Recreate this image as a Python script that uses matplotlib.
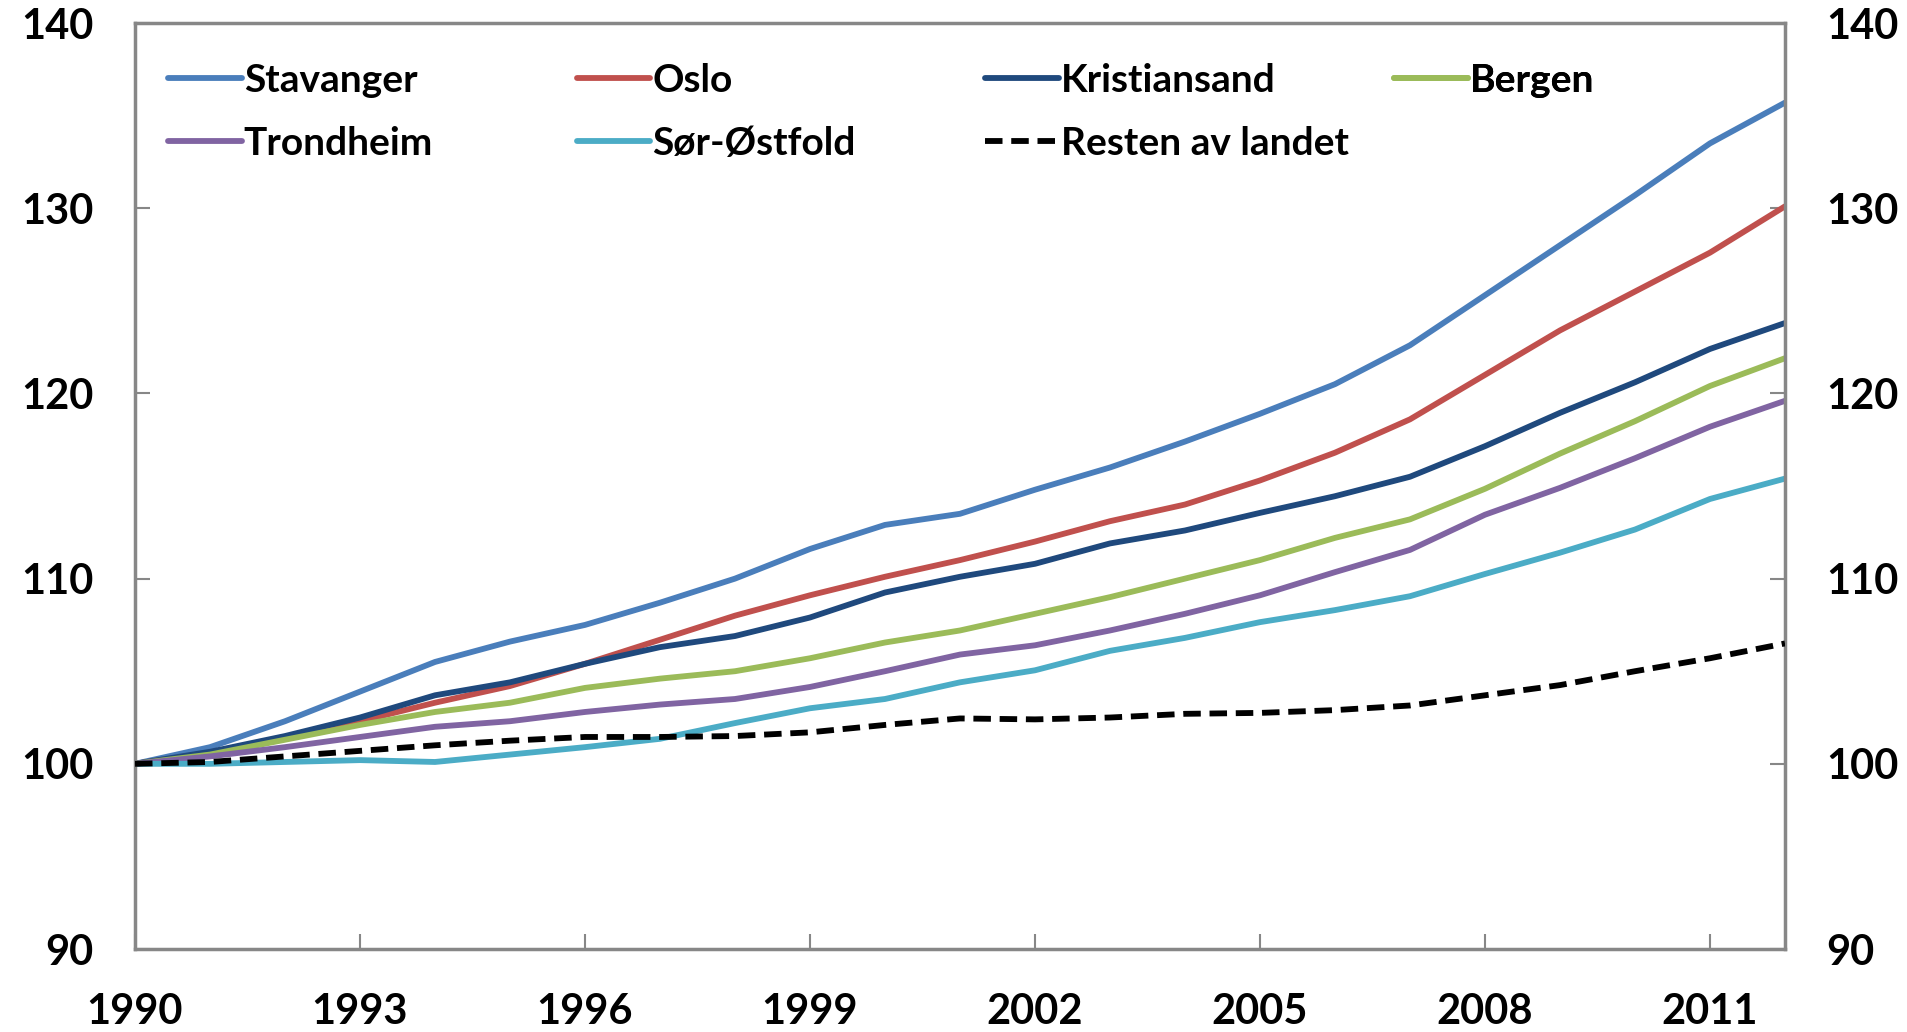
import matplotlib
matplotlib.use("Agg")
import matplotlib.pyplot as plt

years = list(range(1990, 2013))
series_names = ["Stavanger", "Oslo", "Kristiansand", "Bergen",
                "Trondheim", "Sør-Østfold", "Resten av landet"]
stavanger = [100, 100.9, 102.3, 103.9, 105.5, 106.6, 107.5, 108.7, 110.0, 111.6, 112.9, 113.5,
             114.8, 116.0, 117.4, 118.9, 120.5, 122.6, 125.3, 128.0, 130.7, 133.5, 135.7]
oslo = [100, 100.6, 101.4, 102.3, 103.3, 104.2, 105.4, 106.7, 108.0, 109.1, 110.1, 111.0,
        112.0, 113.1, 114.0, 115.3, 116.8, 118.6, 121.0, 123.4, 125.5, 127.6, 130.1]
kristiansand = [100, 100.65, 101.5, 102.5, 103.7, 104.4, 105.4, 106.3, 106.9, 107.9, 109.25, 110.1,
                110.8, 111.9, 112.6, 113.55, 114.45, 115.5, 117.15, 118.95, 120.6, 122.4, 123.8]
bergen = [100, 100.5, 101.3, 102.1, 102.8, 103.3, 104.1, 104.6, 105.0, 105.7, 106.55, 107.2,
          108.1, 109.0, 110.0, 111.0, 112.2, 113.2, 114.85, 116.75, 118.5, 120.4, 121.9]
trondheim = [100, 100.4, 100.9, 101.45, 102.0, 102.3, 102.8, 103.2, 103.5, 104.15, 105.0, 105.9,
             106.4, 107.2, 108.1, 109.1, 110.35, 111.55, 113.45, 114.9, 116.5, 118.2, 119.6]
sor_ostfold = [100, 100.0, 100.1, 100.2, 100.1, 100.5, 100.9, 101.35, 102.2, 103.0, 103.5, 104.4,
               105.05, 106.1, 106.8, 107.65, 108.3, 109.05, 110.25, 111.4, 112.65, 114.3, 115.4]
resten = [100, 100.1, 100.4, 100.7, 101.0, 101.25, 101.45, 101.45, 101.5, 101.7, 102.1, 102.45,
          102.4, 102.5, 102.7, 102.75, 102.9, 103.15, 103.7, 104.25, 105.0, 105.7, 106.5]
xtick_years = [1990, 1993, 1996, 1999, 2002, 2005, 2008, 2011]
yticks = [90, 100, 110, 120, 130, 140]

values = [stavanger, oslo, kristiansand, bergen, trondheim, sor_ostfold, resten]
colors = ["#4A7EBB", "#C0504D", "#1F497D", "#9BBB59", "#8064A2", "#4BACC6", "#000000"]

plt.rcParams['font.family'] = ['Lato', 'DejaVu Sans']
plt.rcParams['font.weight'] = 'bold'

fig = plt.figure(figsize=(19.07, 10.32), dpi=100)
ax = fig.add_axes([0.0708, 0.0804, 0.8652, 0.8973])

handles = []
for name, vals, col in zip(series_names, values, colors):
    if name == "Resten av landet":
        h, = ax.plot(years, vals, color=col, lw=4.2, linestyle=(0, (3.0, 1.5)),
                     label=name, zorder=5)
    else:
        h, = ax.plot(years, vals, color=col, lw=4.2, label=name,
                     solid_capstyle='round', solid_joinstyle='round')
    handles.append(h)

ax.set_xlim(1990, 2012)
ax.set_ylim(90, 140)
ax.set_xticks(xtick_years)
ax.set_yticks(yticks)
ax.set_xticklabels([str(y) for y in xtick_years])
ax.tick_params(axis='x', direction='in', length=11, width=1.5, color='#878787',
               labelsize=30, pad=32)
ax.tick_params(axis='y', direction='in', length=11, width=1.5, color='#878787',
               labelsize=30, pad=30, left=True, right=True, labelright=True)
for lbl in ax.get_xticklabels() + ax.get_yticklabels():
    lbl.set_fontweight('bold')
for s in ax.spines.values():
    s.set_color('#878787')
    s.set_linewidth(2.5)

# legend in 4 evenly spaced columns, row-major order
col_x = [0.0199 + 0.2477 * k for k in range(4)]
for k in range(4):
    hs = [handles[k]]
    if k + 4 < len(handles):
        hs.append(handles[k + 4])
    leg = ax.legend(handles=hs, loc='upper left', bbox_to_anchor=(col_x[k], 0.957),
                    frameon=False, handlelength=1.9, handletextpad=0.05,
                    borderpad=0, borderaxespad=0, labelspacing=0.72,
                    prop={'weight': 'bold', 'size': 28})
    ax.add_artist(leg)

fig.savefig("out.png", dpi=100)
